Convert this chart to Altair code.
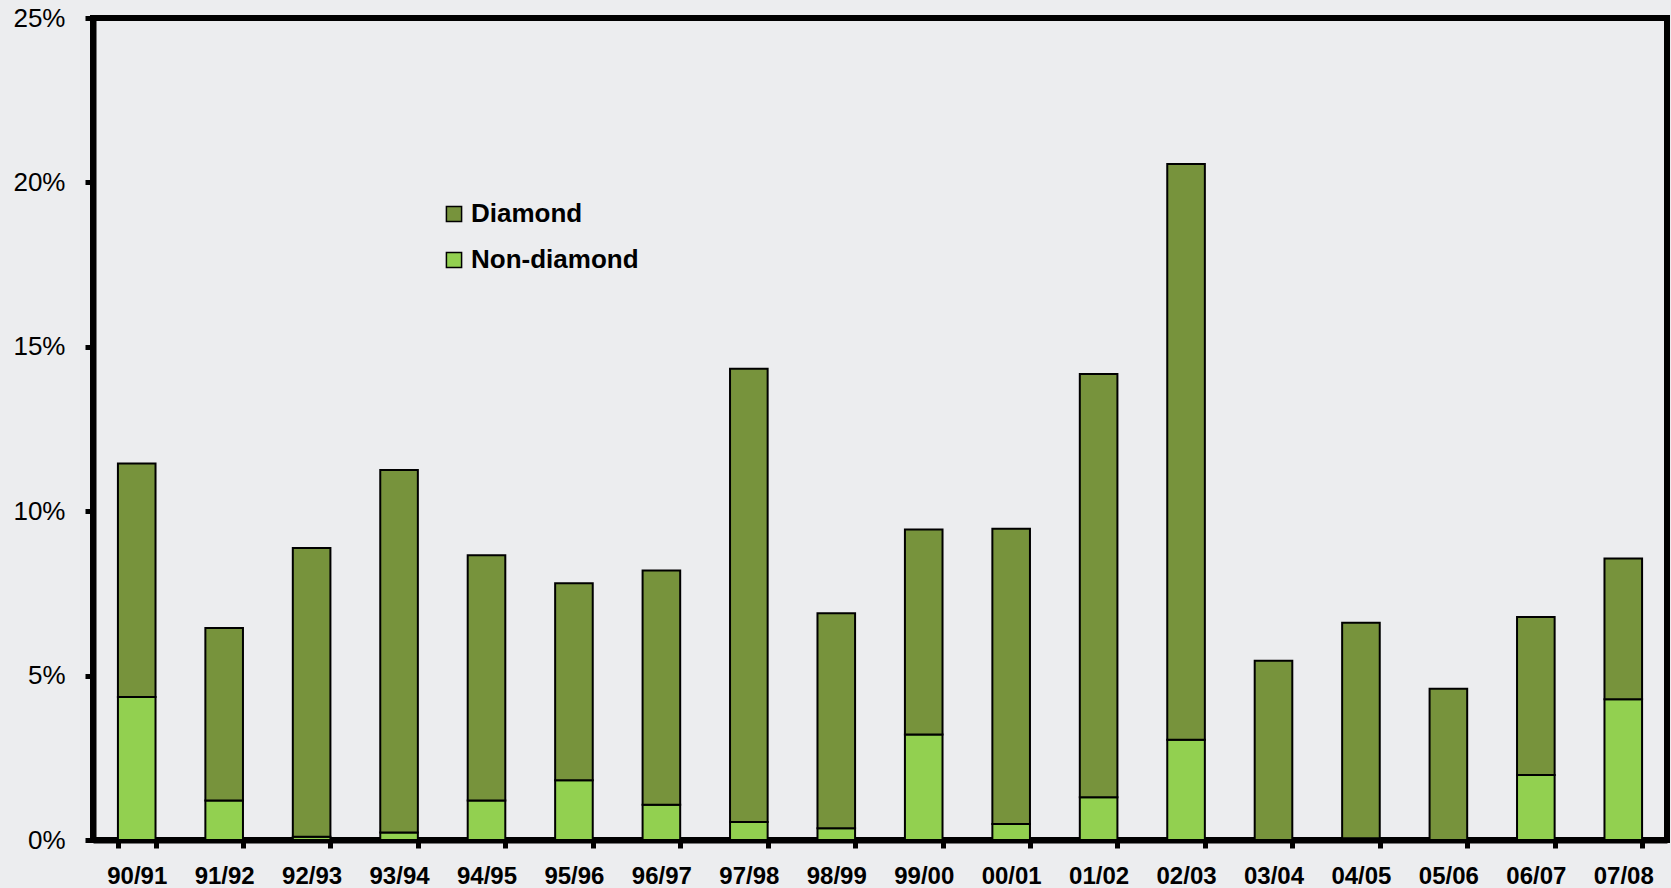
import altair as alt
import pandas as pd

seasons = ["90/91", "91/92", "92/93", "93/94", "94/95", "95/96", "96/97", "97/98", "98/99",
           "99/00", "00/01", "01/02", "02/03", "03/04", "04/05", "05/06", "06/07", "07/08"]
totals = [11.45, 6.45, 8.88, 11.25, 8.66, 7.81, 8.20, 14.33, 6.90,
          9.44, 9.47, 14.17, 20.56, 5.45, 6.61, 4.60, 6.78, 8.56]
non_diamond = [4.35, 1.20, 0.10, 0.23, 1.20, 1.82, 1.07, 0.55, 0.36,
               3.21, 0.49, 1.30, 3.05, 0.00, 0.05, 0.00, 1.98, 4.28]
diamond = [round(t - n, 2) for t, n in zip(totals, non_diamond)]

series = ["Diamond", "Non-diamond"]
colors = ["#77933C", "#92D050"]

rows = []
for s, d, n in zip(seasons, diamond, non_diamond):
    rows.append({"season": s, "type": "Non-diamond", "value": n / 100, "ord": 0})
    rows.append({"season": s, "type": "Diamond", "value": d / 100, "ord": 1})
df = pd.DataFrame(rows)

FONT = "Arial, Liberation Sans, sans-serif"

chart = alt.Chart(df).mark_bar(stroke="black", strokeWidth=2).encode(
    x=alt.X("season:N", sort=seasons, title=None,
            scale=alt.Scale(paddingInner=0.57, paddingOuter=0.285),
            axis=alt.Axis(labelAngle=0, tickBand="extent", labelFontSize=24,
                          labelFontWeight="bold", labelFont=FONT, labelColor="black",
                          labelPadding=16, tickSize=8, tickWidth=5, tickColor="black",
                          domainColor="black", domainWidth=6)),
    y=alt.Y("value:Q", stack="zero", title=None,
            scale=alt.Scale(domain=[0, 0.25], nice=False),
            axis=alt.Axis(format=".0%", values=[0, 0.05, 0.10, 0.15, 0.20, 0.25],
                          labelFontSize=26, labelFont=FONT, labelColor="black",
                          labelPadding=20, tickSize=8, tickWidth=5, tickColor="black",
                          domainColor="black", domainWidth=6, grid=False)),
    color=alt.Color("type:N", scale=alt.Scale(domain=series, range=colors),
                    legend=alt.Legend(title=None, orient="none", legendX=348, legendY=183,
                                      symbolType="square", symbolSize=230,
                                      symbolStrokeColor="black", symbolStrokeWidth=1.5,
                                      labelFontSize=26, labelFont=FONT, labelLimit=0,
                                      labelFontWeight="bold", labelColor="black",
                                      rowPadding=20, labelOffset=4, padding=0)),
    order=alt.Order("ord:Q", sort="ascending"),
).properties(
    width=1574, height=822,
    background="#ECEDEF",
    padding={"left": 93, "top": 18, "right": 4, "bottom": 48},
    autosize=alt.AutoSizeParams(type="none"),
).configure_view(
    stroke="black", strokeWidth=6, fill="#ECEDEF"
)

chart.save("out.html", embed_options={"renderer": "svg", "actions": False})
